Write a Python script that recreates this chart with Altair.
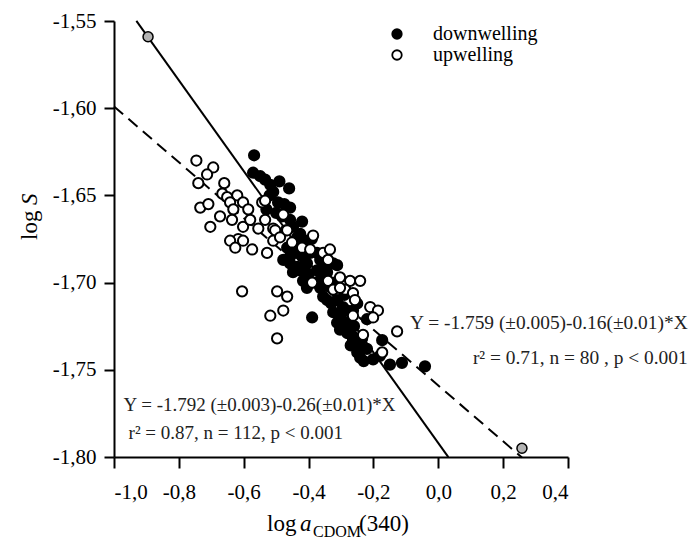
import altair as alt
import pandas as pd

# ---------------- data ----------------
down_x = [-0.568, -0.571, -0.549, -0.534, -0.518, -0.509, -0.494, -0.475, -0.457, -0.482,
          -0.457, -0.448, -0.435, -0.426, -0.405, -0.466, -0.435, -0.457, -0.478, -0.457,
          -0.395, -0.374, -0.364, -0.324, -0.312, -0.426, -0.435, -0.405, -0.374, -0.343,
          -0.448, -0.417, -0.405, -0.364, -0.355, -0.343, -0.312, -0.294, -0.250, -0.263,
          -0.281, -0.324, -0.312, -0.303, -0.281, -0.389, -0.220, -0.287, -0.303, -0.263,
          -0.235, -0.173, -0.263, -0.241, -0.250, -0.241, -0.201, -0.149, -0.112, -0.041,
          -0.520, -0.500, -0.470, -0.440, -0.420, -0.400, -0.380, -0.360, -0.340, -0.330,
          -0.300, -0.280, -0.270, -0.220, -0.460, -0.490, -0.420, -0.390, -0.350, -0.320,
          -0.290, -0.260, -0.230, -0.180, -0.530]
down_y = [-1.627, -1.637, -1.639, -1.641, -1.644, -1.648, -1.654, -1.655, -1.657, -1.662,
          -1.664, -1.668, -1.674, -1.672, -1.676, -1.680, -1.683, -1.685, -1.687, -1.689,
          -1.683, -1.683, -1.687, -1.689, -1.690, -1.693, -1.691, -1.689, -1.693, -1.694,
          -1.694, -1.699, -1.703, -1.703, -1.708, -1.710, -1.710, -1.714, -1.712, -1.716,
          -1.716, -1.717, -1.723, -1.721, -1.723, -1.720, -1.721, -1.726, -1.727, -1.733,
          -1.732, -1.733, -1.731, -1.737, -1.740, -1.743, -1.744, -1.747, -1.746, -1.748,
          -1.650, -1.660, -1.670, -1.678, -1.685, -1.695, -1.700, -1.697, -1.702, -1.712,
          -1.718, -1.729, -1.736, -1.738, -1.646, -1.642, -1.665, -1.675, -1.690, -1.700,
          -1.707, -1.725, -1.745, -1.742, -1.658]

up_x = [-0.746, -0.694, -0.713, -0.740, -0.660, -0.666, -0.620, -0.734, -0.709, -0.651,
        -0.642, -0.602, -0.586, -0.632, -0.673, -0.636, -0.602, -0.703, -0.543, -0.478,
        -0.534, -0.580, -0.555, -0.509, -0.617, -0.534, -0.503, -0.642, -0.626, -0.574,
        -0.528, -0.509, -0.488, -0.451, -0.466, -0.420, -0.395, -0.386, -0.355, -0.340,
        -0.334, -0.602,
        -0.389, -0.340, -0.303, -0.272, -0.241, -0.324, -0.287, -0.263, -0.210, -0.186,
        -0.263, -0.232, -0.127, -0.173, -0.303, -0.257, -0.201,
        -0.605, -0.497, -0.466, -0.478, -0.518, -0.497]
up_y = [-1.630, -1.634, -1.638, -1.643, -1.643, -1.649, -1.650, -1.657, -1.655, -1.651,
        -1.654, -1.654, -1.658, -1.658, -1.662, -1.664, -1.668, -1.668, -1.654, -1.661,
        -1.664, -1.664, -1.669, -1.669, -1.675, -1.653, -1.670, -1.676, -1.680, -1.681,
        -1.683, -1.676, -1.674, -1.677, -1.670, -1.680, -1.681, -1.673, -1.683, -1.687,
        -1.681, -1.676,
        -1.700, -1.699, -1.697, -1.699, -1.699, -1.704, -1.704, -1.706, -1.714, -1.716,
        -1.719, -1.730, -1.728, -1.740, -1.703, -1.710, -1.720,
        -1.705, -1.705, -1.708, -1.716, -1.719, -1.732]

grey_x = [-0.895, 0.258]
grey_y = [-1.559, -1.795]

# regression lines (from the equations printed on the figure)
solid_intercept, solid_slope = -1.792, -0.26
dashed_intercept, dashed_slope = -1.759, -0.16
solid_x = [-0.931, 0.031]
dashed_x = [-1.0, 0.258]

x_ticks = [-1.0, -0.8, -0.6, -0.4, -0.2, 0.0, 0.2, 0.4]
y_ticks = [-1.80, -1.75, -1.70, -1.65, -1.60, -1.55]

eq_left_text = ["Y = -1.792 (\u00b10.003)-0.26(\u00b10.01)*X", "r\u00b2 = 0.87, n = 112, p < 0.001"]
eq_left_x = [-0.971, -0.955]
eq_left_y = [-1.7702, -1.7862]
eq_right_text = ["Y = -1.759 (\u00b10.005)-0.16(\u00b10.01)*X", "r\u00b2 = 0.71, n = 80 , p < 0.001"]
eq_right_x = [0.769, 0.769]
eq_right_y = [-1.7232, -1.7432]

groups = ["downwelling", "upwelling"]

# ---------------- tables ----------------
pts = pd.DataFrame({
    "x": down_x + up_x,
    "y": down_y + up_y,
    "group": [groups[0]] * len(down_x) + [groups[1]] * len(up_x),
})
grey = pd.DataFrame({"x": grey_x, "y": grey_y})
solid = pd.DataFrame({"x": solid_x, "y": [solid_intercept + solid_slope * v for v in solid_x]})
dashed = pd.DataFrame({"x": dashed_x, "y": [dashed_intercept + dashed_slope * v for v in dashed_x]})
eq_left = pd.DataFrame({"x": eq_left_x, "y": eq_left_y, "t": eq_left_text})
eq_right = pd.DataFrame({"x": eq_right_x, "y": eq_right_y, "t": eq_right_text})

FONT = "Liberation Serif"
xlab = "replace(replace(format(datum.value, '.1f'), '.', ','), '\u2212', '-')"
ylab = "replace(replace(format(datum.value, '.2f'), '.', ','), '\u2212', '-')"

xs = alt.Scale(domain=[-1.0, 0.4], nice=False, zero=False)
ys = alt.Scale(domain=[-1.80, -1.55], nice=False, zero=False)
X = alt.X("x:Q", scale=xs, axis=alt.Axis(values=x_ticks, labelExpr=xlab, title=None,
                                         tickSize=11, labelPadding=13))
Y = alt.Y("y:Q", scale=ys, axis=alt.Axis(values=y_ticks, labelExpr=ylab, title=None,
                                         tickSize=10, labelPadding=8))

solid_layer = alt.Chart(solid).mark_line(color="black", strokeWidth=2).encode(x=X, y=Y)
dashed_layer = alt.Chart(dashed).mark_line(color="black", strokeWidth=2, strokeDash=[12, 7]).encode(
    x=alt.X("x:Q", scale=xs), y=alt.Y("y:Q", scale=ys))

points = alt.Chart(pts).mark_point(filled=True, size=105, stroke="black", strokeWidth=2, opacity=1).encode(
    x=alt.X("x:Q", scale=xs),
    y=alt.Y("y:Q", scale=ys),
    fill=alt.Fill("group:N", scale=alt.Scale(domain=groups, range=["black", "white"]),
                  legend=alt.Legend(orient="none", legendX=273, legendY=3, title=None,
                                    labelFont=FONT, labelFontSize=20, labelColor="black",
                                    symbolType="circle", symbolSize=90, symbolStrokeColor="black",
                                    symbolStrokeWidth=1.8, labelOffset=26, rowPadding=1, padding=0)),
)
grey_layer = alt.Chart(grey).mark_point(filled=True, size=100, fill="#b3b3b3", stroke="black",
                                        strokeWidth=1.5, opacity=1).encode(
    x=alt.X("x:Q", scale=xs), y=alt.Y("y:Q", scale=ys))

eq_l = alt.Chart(eq_left).mark_text(align="left", baseline="middle", font=FONT, fontSize=19,
                                    color="#222").encode(
    x=alt.X("x:Q", scale=xs), y=alt.Y("y:Q", scale=ys), text="t:N")
eq_r = alt.Chart(eq_right).mark_text(align="right", baseline="middle", font=FONT, fontSize=19.4,
                                     color="#222").encode(
    x=alt.X("x:Q", scale=xs), y=alt.Y("y:Q", scale=ys), text="t:N")

# axis titles (mixed styles) as text marks outside the plot area
def txt(s, x, y, size=23, style="normal", angle=0, align="left", baseline="alphabetic"):
    return alt.Chart(pd.DataFrame({"t": [s]})).mark_text(
        font=FONT, fontSize=size, fontStyle=style, angle=angle, align=align,
        baseline=baseline, color="black").encode(x=alt.value(x), y=alt.value(y), text="t:N")

title_layers = [
    txt("log", 153, 510),
    txt("a", 186, 510, style="italic"),
    txt("CDOM", 199, 516, size=16),
    txt("(340)", 245, 510),
    txt("log", -84, 219, angle=270, baseline="middle"),
    txt("S", -84, 184, angle=270, baseline="middle", style="italic"),
]

chart = alt.layer(solid_layer, dashed_layer, points, grey_layer, eq_l, eq_r, *title_layers).properties(
    width=454, height=436,
    autosize=alt.AutoSizeParams(type="none"),
    padding={"left": 114, "top": 21, "right": 124, "bottom": 85},
).configure_view(stroke=None).configure_axis(
    domainColor="black", domainWidth=2, tickColor="black", tickWidth=2,
    labelFont=FONT, labelFontSize=21, labelColor="black", grid=False,
)

chart.save("out.html", embed_options={"renderer": "svg", "actions": False})
